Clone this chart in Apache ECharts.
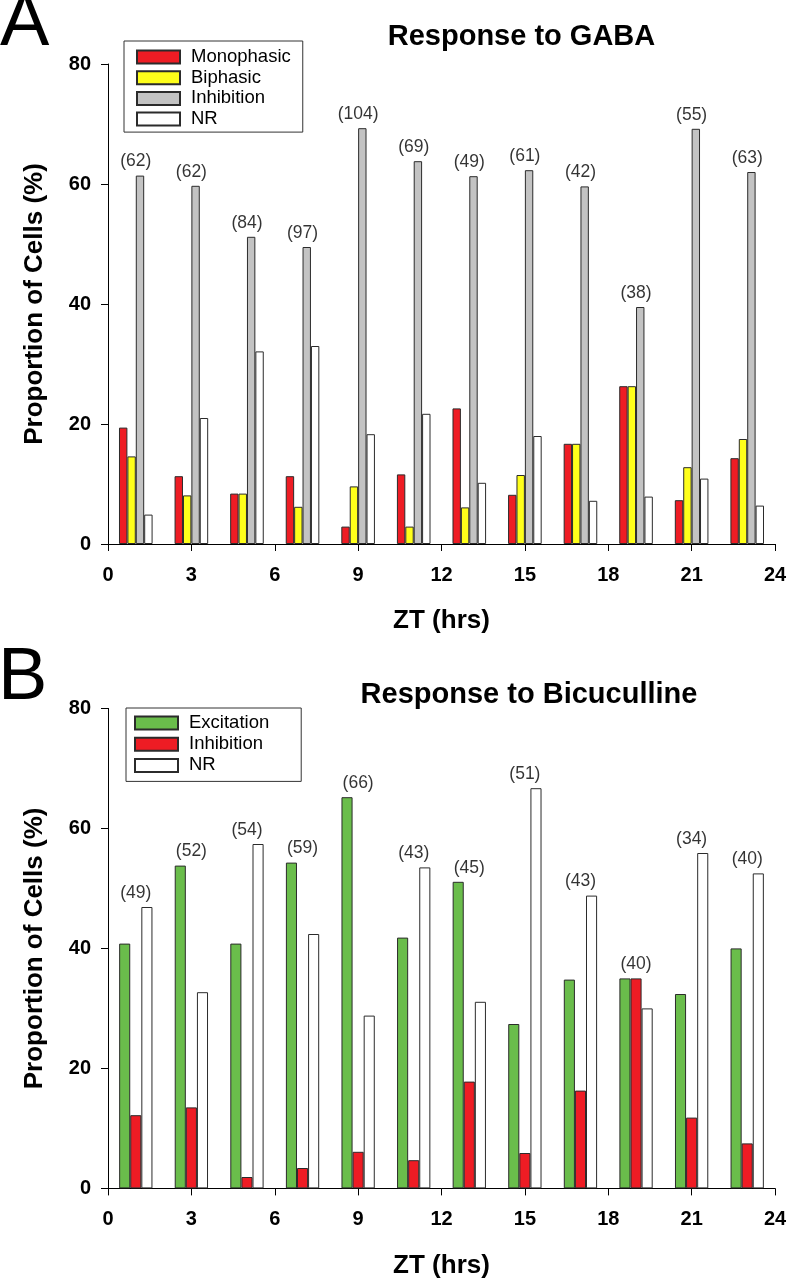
<!DOCTYPE html>
<html><head><meta charset="utf-8">
<script src="https://cdn.jsdelivr.net/npm/echarts@6/dist/echarts.min.js"></script>
<style>html,body{margin:0;padding:0;background:#fff}#c{width:790px;height:1280px}</style>
</head><body><div id="c"></div>
<script>
// ---- data ----
const hours = [1, 3, 5, 7, 9, 11, 13, 15, 17, 19, 21, 23];
// Panel A: Response to GABA (% of cells)
const monophasic  = [19.4, 11.3, 8.4, 11.3, 2.9, 11.6, 22.6, 8.2, 16.7, 26.3, 7.3, 14.3];
const biphasic    = [14.6, 8.1, 8.4, 6.2, 9.6, 2.9, 6.1, 11.5, 16.7, 26.3, 12.8, 17.5];
const inhibitionA = [61.4, 59.7, 51.2, 49.5, 69.3, 63.8, 61.3, 62.3, 59.6, 39.5, 69.2, 62.0];
const nrA         = [4.9, 21.0, 32.1, 33.0, 18.3, 21.7, 10.2, 18.0, 7.2, 7.9, 10.9, 6.4];
const cellsA      = [62, 62, 84, 97, 104, 69, 49, 61, 42, 38, 55, 63];
// Panel B: Response to Bicuculline (% of cells)
const excitation  = [40.8, 53.8, 40.8, 54.3, 65.2, 41.8, 51.1, 27.4, 34.8, 35.0, 32.4, 40.0];
const inhibitionB = [12.2, 13.5, 1.9, 3.4, 6.1, 4.7, 17.8, 5.9, 16.3, 35.0, 11.8, 7.5];
const nrB         = [46.9, 32.7, 57.4, 42.4, 28.8, 53.5, 31.1, 66.7, 48.8, 30.0, 55.9, 52.5];
const cellsB      = [49, 52, 54, 59, 66, 43, 45, 51, 43, 40, 34, 40];
// ticks
const xMin = 0, xMax = 24, xStep = 3;
const yMin = 0, yMax = 80, yStep = 20;

const FONT = "'Liberation Sans', Arial, Helvetica, sans-serif";
const BORDER = '#2b2b2b';

function pairs(vals) { return hours.map((h, i) => [h, vals[i]]); }
function bar(name, vals, color, gi, w) {
  return {
    type: 'bar', name, xAxisIndex: gi, yAxisIndex: gi, data: pairs(vals),
    barWidth: w, barGap: '0%', silent: true,
    itemStyle: { color, borderColor: BORDER, borderWidth: 1 }
  };
}
function countLabels(groups, counts, gi) {
  return {
    type: 'scatter', xAxisIndex: gi, yAxisIndex: gi, symbolSize: 0.1, silent: true, z: 5,
    itemStyle: { color: 'rgba(0,0,0,0)' },
    data: hours.map((h, i) => [h, Math.max(...groups.map(g => g[i])), counts[i]]),
    label: { show: true, position: 'top', distance: 5, fontSize: 17.5, color: '#000', fontFamily: FONT,
      formatter: p => '(' + p.value[2] + ')' }
  };
}
function xAx(gi) {
  return {
    type: 'value', gridIndex: gi, min: xMin, max: xMax, interval: xStep,
    axisLine: { show: true, onZero: false, lineStyle: { color: '#000', width: 1 } },
    axisTick: { show: true, length: 7, lineStyle: { color: '#000' } },
    axisLabel: { fontSize: 20, fontWeight: 'bold', color: '#000', margin: 21, fontFamily: FONT },
    splitLine: { show: false },
    name: 'ZT (hrs)', nameLocation: 'middle', nameGap: 64,
    nameTextStyle: { fontSize: 26, fontWeight: 'bold', color: '#000', fontFamily: FONT }
  };
}
function yAx(gi) {
  return {
    type: 'value', gridIndex: gi, min: yMin, max: yMax, interval: yStep,
    axisLine: { show: true, lineStyle: { color: '#000', width: 1 } },
    axisTick: { show: true, length: 7, lineStyle: { color: '#000' } },
    axisLabel: { fontSize: 20, fontWeight: 'bold', color: '#000', margin: 17, fontFamily: FONT },
    splitLine: { show: false },
    name: 'Proportion of Cells (%)', nameLocation: 'middle', nameGap: 60, nameRotate: 90,
    nameTextStyle: { fontSize: 26, fontWeight: 'bold', color: '#000', fontFamily: FONT }
  };
}
const legendBase = {
  orient: 'vertical', itemWidth: 43, itemHeight: 13, icon: 'rect',
  borderColor: '#333', borderWidth: 1, backgroundColor: '#fff',
  selectedMode: false,
  textStyle: { fontSize: 18.5, color: '#000', fontFamily: FONT, lineHeight: 20, padding: [0, 0, 0, 6] },
  formatter: n => n.replace(' (B)', '')
};

const chart = echarts.init(document.getElementById('c'), null, { renderer: 'canvas' });
chart.setOption({
  animation: false,
  backgroundColor: '#fff',
  grid: [
    { left: 108, right: 15, top: 64, height: 480 },
    { left: 108, right: 15, top: 708.4, height: 480 }
  ],
  xAxis: [xAx(0), xAx(1)],
  yAxis: [yAx(0), yAx(1)],
  legend: [
    Object.assign({}, legendBase, { left: 124, top: 41, itemGap: 0.7, padding: [6, 12, 3, 12],
      data: ['Monophasic', 'Biphasic', 'Inhibition', 'NR'] }),
    Object.assign({}, legendBase, { left: 126, top: 708, itemGap: 1.2, padding: [5, 32, 6, 8],
      data: ['Excitation', 'Inhibition (B)', 'NR (B)'] })
  ],
  graphic: [
    { type: 'text', x: 0, y: 25, style: { text: 'A', font: 'normal 74px ' + FONT, fill: '#000', textAlign: 'left', textVerticalAlign: 'middle' } },
    { type: 'text', x: -2, y: 678.5, style: { text: 'B', font: 'normal 74px ' + FONT, fill: '#000', textAlign: 'left', textVerticalAlign: 'middle' } },
    { type: 'text', x: 521.5, y: 36.7, style: { text: 'Response to GABA', font: 'bold 29px ' + FONT, fill: '#000', textAlign: 'center', textVerticalAlign: 'middle' } },
    { type: 'text', x: 529, y: 694.5, style: { text: 'Response to Bicuculline', font: 'bold 29px ' + FONT, fill: '#000', textAlign: 'center', textVerticalAlign: 'middle' } }
  ],
  series: [
    bar('Monophasic', monophasic, '#ee1c24', 0, 8.4),
    bar('Biphasic', biphasic, '#ffff1a', 0, 8.4),
    bar('Inhibition', inhibitionA, '#c3c3c3', 0, 8.4),
    bar('NR', nrA, '#ffffff', 0, 8.4),
    countLabels([monophasic, biphasic, inhibitionA, nrA], cellsA, 0),
    bar('Excitation', excitation, '#6abd4b', 1, 11.1),
    bar('Inhibition (B)', inhibitionB, '#ee1c24', 1, 11.1),
    bar('NR (B)', nrB, '#ffffff', 1, 11.1),
    countLabels([excitation, inhibitionB, nrB], cellsB, 1)
  ]
});
</script></body></html>
